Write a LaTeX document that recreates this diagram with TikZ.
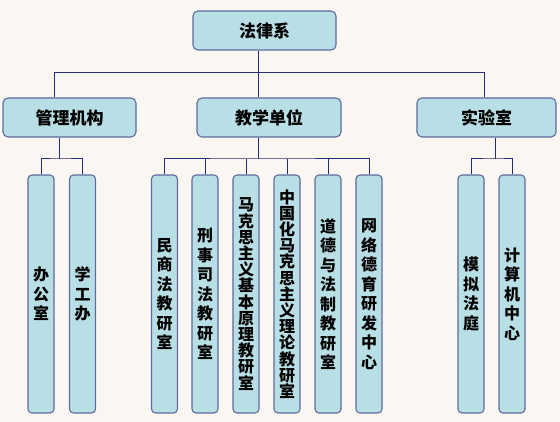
\documentclass[tikz,border=0pt]{standalone}
\usepackage{fontspec}
\newfontfamily\cjk{Noto Sans CJK SC}
\usetikzlibrary{positioning}
\definecolor{boxfill}{RGB}{184,223,229}
\definecolor{boxedge}{RGB}{96,106,160}
\definecolor{linkblue}{RGB}{42,42,125}
\definecolor{paper}{RGB}{250,247,242}

\begin{document}
\begin{tikzpicture}[x=1pt, y=-1pt,
    unit/.style={draw=boxedge, fill=boxfill, line width=1.1pt, rounded corners=5pt,
        minimum height=39pt, inner sep=0pt, font=\cjk\bfseries\fontsize{17}{20}\selectfont},
    room/.style={draw=boxedge, fill=boxfill, line width=1.1pt, rounded corners=4pt,
        minimum width=26pt, minimum height=238pt, inner sep=0pt, align=center,
        font=\cjk\bfseries\fontsize{16}{19.5}\selectfont},
    tightroom/.style={room, font=\cjk\bfseries\fontsize{16}{16.2}\selectfont},
    link/.style={draw=linkblue, line width=1pt}]

    % Background / page frame
    \fill[paper] (0,0) rectangle (560,422);

    % Top and second level
    \node[unit, minimum width=143pt] (dept) at (264.5,30.5) {法律系};
    \node[unit, minimum width=133pt] (admin) at (69.5,117.5) {管理机构};
    \node[unit, minimum width=144pt] (teach) at (269,117.5) {教学单位};
    \node[unit, minimum width=139pt] (lab) at (486.5,117.5) {实验室};

    % Offices under the administration
    \node[room] (office) at (41,294) {办\\公\\室};
    \node[room] (student) at (82.5,294) {学\\工\\办};

    % Teaching sections
    \node[room] (civil) at (164.5,294) {民\\商\\法\\教\\研\\室};
    \node[room] (crime) at (205,294) {刑\\事\\司\\法\\教\\研\\室};
    \node[tightroom] (marx) at (246,294) {马\\克\\思\\主\\义\\基\\本\\原\\理\\教\\研\\室};
    \node[tightroom] (china) at (287,294) {中\\国\\化\\马\\克\\思\\主\\义\\理\\论\\教\\研\\室};
    \node[room] (moral) at (328,294) {道\\德\\与\\法\\制\\教\\研\\室};
    \node[room] (web) at (369,294) {网\\络\\德\\育\\研\\发\\中\\心};

    % Laboratories
    \node[room] (court) at (471,294) {模\\拟\\法\\庭};
    \node[room] (comp) at (512,294) {计\\算\\机\\中\\心};

    % Connectors from the department
    \coordinate (topbus) at (258,73);
    \coordinate (adminin) at (54,73);
    \coordinate (labin) at (484,73);
    \draw[link] (dept.south -| topbus) -- (topbus |- teach.north);
    \draw[link] (adminin |- admin.north) -- (adminin) -- (labin) -- (labin |- lab.north);

    % Connectors to the sections
    \coordinate (adminbus) at (59,159);
    \coordinate (teachbus) at (258,159);
    \coordinate (labbus) at (495,159);
    \draw[link] (adminbus |- admin.south) -- (adminbus);
    \draw[link] (office.north) |- (adminbus) -| (student.north);
    \draw[link] (teachbus |- teach.south) -- (teachbus);
    \draw[link] (civil.north) |- (teachbus) -| (web.north);
    \foreach \sec in {crime, marx, china, moral}
        \draw[link] (\sec.north) -- (\sec.north |- teachbus);
    \draw[link] (labbus |- lab.south) -- (labbus);
    \draw[link] (court.north) |- (labbus) -| (comp.north);
\end{tikzpicture}
\end{document}
